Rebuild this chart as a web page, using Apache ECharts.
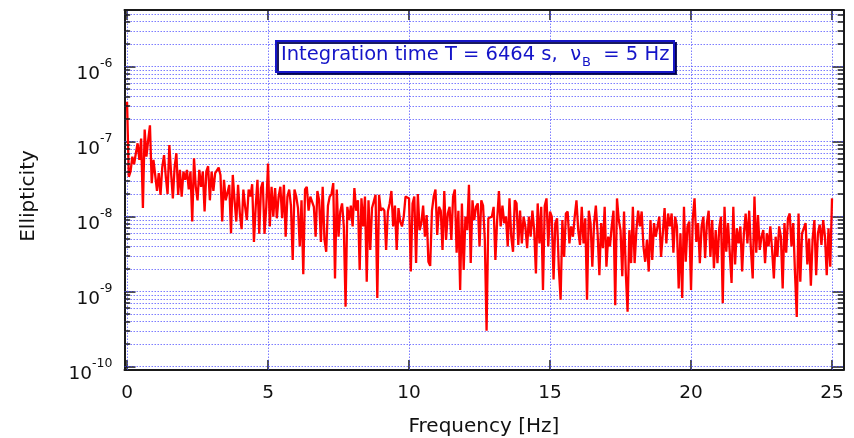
<!DOCTYPE html>
<html>
<head>
<meta charset="utf-8">
<script src="https://cdn.jsdelivr.net/npm/echarts@6/dist/echarts.min.js"></script>
<style>html,body{margin:0;padding:0;background:#fff}#c{width:854px;height:438px}</style>
</head>
<body>
<div id="c"></div>
<script>
// Frequency grid spacing (Hz) of the spectrum samples
const FREQ_STEP = 0.0625;
// Tick labels
const xTickValues = [0, 5, 10, 15, 20, 25];
const yMultipliers = [1, 2, 3, 4, 5, 6, 7, 8, 9];
const yDecadeExps = [-11, -10, -9, -8, -7, -6];

// Ellipticity values, 0 – 6.25 Hz
const segA = [3.4e-7,3.4e-8,4e-8,6.3e-8,5e-8,7e-8,9.5e-8,5.7e-8,1.1e-7,1.3e-8,
1.45e-7,6.3e-8,1.05e-7,1.65e-7,2.8e-8,5.7e-8,5.8e-8,2.2e-8,3.8e-8,1.95e-8,
4.6e-8,6.6e-8,3.4e-8,2e-8,9e-8,3.8e-8,1.75e-8,4.6e-8,7e-8,1.95e-8,
4.2e-8,1.85e-8,4e-8,3.1e-8,4.2e-8,2.3e-8,4e-8,8.6e-9,6e-8,2.5e-8,
1.65e-8,4.2e-8,2.5e-8,4e-8,1.17e-8,4e-8,4.7e-8,1.65e-8,4e-8,2.2e-8,
3.8e-8,4e-8,4.5e-8,3.6e-8,8.6e-9,3.1e-8,1.65e-8,1.6e-8,2.65e-8,6e-9,
3.6e-8,1.65e-8,8.6e-9,2.65e-8,1.1e-8,6.8e-9,2.3e-8,1.35e-8,9e-9,2.3e-8,
1.85e-8,2.7e-8,4.6e-9,1.35e-8,3.1e-8,5.9e-9,2.4e-8,2.9e-8,5.9e-9,1.35e-8,
5.1e-8,7.4e-9,2.5e-8,1e-8,2.4e-8,9.5e-9,1.85e-8,2.5e-8,9.5e-9,2.65e-8,
5.4e-9,1.85e-8,2.3e-8,1.4e-8,2.65e-9,2.3e-8,1.85e-8,1.3e-8,4e-9,1.65e-8,
1.7e-9];
// 6.3125 – 12.6875 Hz
const segB = [2.3e-8,2.5e-8,1.2e-8,1.85e-8,1.95e-8,1.35e-8,5.4e-9,2.2e-8,1.65e-8,4.6e-9,
2.5e-8,5e-9,3.4e-9,1.4e-8,1.85e-8,2e-8,2.8e-8,1.5e-9,2.3e-8,5.4e-9,
1.17e-8,1.5e-8,7.4e-9,6.3e-10,1.35e-8,9e-9,1.4e-8,7.4e-9,2.4e-8,1.2e-8,
1.65e-8,1.95e-9,1.75e-8,7.4e-9,1.85e-8,1.35e-9,1.65e-8,3.6e-9,1.3e-8,1.35e-8,
1.95e-8,8.2e-10,1.95e-8,1.2e-8,1.3e-8,1.2e-8,3.6e-9,1.17e-8,1.5e-8,2.2e-8,
7.4e-9,1.4e-8,3.6e-9,1.3e-8,8.6e-9,7.4e-9,1e-8,1.85e-8,1.95e-8,1.75e-8,
1.85e-9,1.5e-8,1.85e-8,2.4e-9,2e-8,6.6e-9,8.2e-9,1.4e-8,5.4e-9,1.05e-8,
2.5e-9,2.2e-9,1.2e-8,1.85e-8,2.3e-8,5.7e-9,1.35e-8,1.2e-8,3.6e-9,2.2e-8,
4.9e-9,1.1e-8,1.35e-8,4.9e-9,1.85e-8,2.3e-8,3.3e-9,1.2e-8,1.05e-9,1.5e-8,
1.95e-9,1e-8,6.6e-9,2.65e-8,2.4e-9,1.65e-8,9e-9,1.35e-8,1.5e-8,4e-9,
1.65e-8,1.4e-8,4.9e-9];
// 12.75 – 19.0625 Hz
const segC = [3e-10,9.5e-9,9e-9,1e-8,1.35e-8,2.65e-9,9e-9,2.2e-8,7.4e-9,1.4e-8,
8.2e-9,1e-8,4e-9,1.75e-8,5.4e-9,3.4e-9,1.65e-8,1.5e-8,4.2e-9,1.2e-8,
4.4e-9,1e-8,7.4e-9,3.8e-9,1e-8,5.4e-9,1.2e-8,6.6e-9,1.75e-9,1.5e-8,
4.4e-9,1.35e-8,1.05e-9,1.4e-8,1.75e-8,4e-9,1.17e-8,1e-8,1.45e-9,8.2e-9,
9.5e-9,2.05e-9,7.8e-10,9e-9,2.9e-9,1.1e-8,1.17e-8,4.4e-9,7.4e-9,5.4e-9,
1e-8,1.65e-8,6.6e-9,4.2e-9,1.35e-8,4.4e-9,9.5e-9,7.8e-10,1.2e-8,8.2e-9,
2.15e-9,8.2e-9,1.4e-8,6e-9,1.65e-9,8.2e-9,3.8e-9,1.35e-8,2.15e-9,5.4e-9,
4e-9,7.4e-9,1.2e-8,6.6e-10,1.75e-8,9e-9,6.6e-9,1.6e-9,1.17e-8,1.75e-9,
5.4e-10,6.6e-9,2.4e-9,1.35e-8,2.4e-9,6.6e-9,1.2e-8,7.4e-9,1.17e-8,4e-9,
2.5e-9,4.9e-9,1.85e-9,9e-9,2.65e-9,8.2e-9,5.4e-9,7.4e-9,1e-8,2.9e-9,
6e-9,1.3e-8];
// 19.125 – 25 Hz
const segD = [4.4e-9,1.1e-8,7.4e-9,1.1e-8,3.3e-9,1e-8,7.4e-9,1.1e-9,6e-9,8.2e-10,
1.35e-8,2.5e-9,7.4e-9,8.6e-9,1.05e-9,9.5e-9,1.75e-8,4.6e-9,8.2e-9,2.4e-9,
7.4e-9,1e-8,2.8e-9,8.2e-9,1.2e-8,2.9e-9,9e-9,2.05e-9,6.6e-9,2.4e-9,
7e-9,1e-8,7e-10,1.35e-8,3.4e-9,8.2e-9,8.6e-9,1.3e-9,1.35e-8,2.3e-9,
7e-9,4.4e-9,7.4e-9,1.85e-9,6e-9,1.1e-8,4.4e-9,1.2e-8,3.6e-9,1.5e-9,
1.85e-8,3.3e-9,1.05e-8,3.6e-9,5.4e-9,6.6e-9,2.4e-9,6e-9,4e-9,7.4e-9,
3.6e-9,1.5e-9,5.4e-9,2.9e-9,7.4e-9,5.4e-9,1.1e-9,8.2e-9,3.3e-9,9.5e-9,
1.1e-8,4e-9,8.2e-9,1.75e-9,4.6e-10,1.1e-8,1.35e-9,6e-9,6e-9,8.2e-9,
2.3e-9,5.1e-9,1.2e-9,5.1e-9,9e-9,1.65e-9,6e-9,7.8e-9,4.2e-9,9e-9,
5.4e-9,1.65e-9,7e-9,2.15e-9,1.75e-8];

const ellipticity = segA.concat(segB, segC, segD);
const seriesData = ellipticity.map((v, i) => [i * FREQ_STEP, v]);

const X_MIN = -0.09, X_MAX = 25.4;
const Y_MIN = 9.0e-11, Y_MAX = 5.7e-6;
const FONT = '"DejaVu Sans", Verdana, sans-serif';
const GRID_COLOR = 'rgba(70,70,255,0.7)';

// gridline / tick positions
const yGridVals = [];
yDecadeExps.forEach(e => yMultipliers.forEach(m => {
  const v = m * Math.pow(10, e);
  if (v > Y_MIN && v < Y_MAX) yGridVals.push(v);
}));
const gridLines = yGridVals.map(v => [{ coord: [X_MIN, v] }, { coord: [X_MAX, v] }])
  .concat(xTickValues.map(x => [{ coord: [x, Y_MIN] }, { coord: [x, Y_MAX] }]));
const minorVals = yGridVals.filter(v => Math.abs(Math.log10(v) - Math.round(Math.log10(v))) > 1e-6);
const TICK_W = 0.2;
const minorTicks = [];
minorVals.forEach(v => {
  minorTicks.push([{ coord: [X_MIN, v] }, { coord: [X_MIN + TICK_W, v] }]);
  minorTicks.push([{ coord: [X_MAX - TICK_W, v] }, { coord: [X_MAX, v] }]);
});

const axisLineStyle = { show: true, onZero: false, lineStyle: { color: '#1a1a1a', width: 2 } };
const tickStyle = { color: '#1a1a1a', width: 1.5 };

const chart = echarts.init(document.getElementById('c'), null, { renderer: 'canvas' });
chart.setOption({
  animation: false,
  backgroundColor: '#fff',
  title: {
    text: '{t|Integration time T = 6464 s,  \u03bd}{sub|B}{t|  = 5 Hz}',
    left: 276, top: 37,
    backgroundColor: '#fff',
    borderColor: '#1616c8', borderWidth: 2,
    padding: [4, 5, 3, 5],
    shadowColor: 'rgba(0,0,80,0.9)', shadowBlur: 0, shadowOffsetX: 2, shadowOffsetY: 2,
    textStyle: {
      fontWeight: 'normal',
      rich: {
        t: { fontSize: 19.5, fontWeight: 'normal', color: '#1414c8', fontFamily: FONT, lineHeight: 28 },
        sub: { fontSize: 13, fontWeight: 'normal', color: '#1414c8', fontFamily: FONT, lineHeight: 28, verticalAlign: 'bottom', padding: [0, 0, 0, 1] }
      }
    }
  },
  grid: { left: 124.5, right: 10.7, top: 10, bottom: 68, containLabel: false, outerBoundsMode: 'none' },
  xAxis: [{
    type: 'value', min: X_MIN, max: X_MAX, position: 'bottom',
    axisLine: axisLineStyle,
    axisTick: { show: true, inside: true, length: 10, customValues: xTickValues, lineStyle: tickStyle },
    axisLabel: { customValues: xTickValues, fontSize: 18.5, color: '#111', fontFamily: FONT, margin: 14 },
    splitLine: { show: false },
    name: 'Frequency [Hz]', nameLocation: 'middle', nameGap: 47,
    nameTextStyle: { fontSize: 20, color: '#111', fontFamily: FONT, verticalAlign: 'top' }
  }, {
    type: 'value', min: X_MIN, max: X_MAX, position: 'top',
    axisLine: axisLineStyle,
    axisTick: { show: true, inside: true, length: 10, customValues: xTickValues, lineStyle: tickStyle },
    axisLabel: { show: false },
    splitLine: { show: false }
  }],
  yAxis: [{
    type: 'log', logBase: 10, min: Y_MIN, max: Y_MAX, position: 'left',
    axisLine: axisLineStyle,
    axisTick: { show: true, inside: true, length: 11, lineStyle: tickStyle },
    minorTick: { show: false },
    splitLine: { show: false },
    axisLabel: {
      margin: 12, color: '#111', fontFamily: FONT, padding: [8, 0, 0, 0],
      formatter: v => {
        const l = Math.log10(v), e = Math.round(l);
        if (Math.abs(l - e) > 1e-6) return '';
        return '{b|10}{s|' + e + '}';
      },
      rich: {
        b: { fontSize: 18.5, fontFamily: FONT, color: '#111', lineHeight: 26, verticalAlign: 'bottom' },
        s: { fontSize: 12.5, fontFamily: FONT, color: '#111', lineHeight: 26, verticalAlign: 'top' }
      }
    },
    name: 'Ellipticity', nameLocation: 'middle', nameGap: 86, nameRotate: 90,
    nameTextStyle: { fontSize: 20, color: '#111', fontFamily: FONT, padding: [0, 12, 0, 0] }
  }, {
    type: 'log', logBase: 10, min: Y_MIN, max: Y_MAX, position: 'right',
    axisLine: axisLineStyle,
    axisTick: { show: true, inside: true, length: 11, lineStyle: tickStyle },
    minorTick: { show: false },
    splitLine: { show: false },
    axisLabel: { show: false }
  }],
  series: [{
    name: 'grid', type: 'line', data: [], z: 1, silent: true,
    markLine: {
      silent: true, symbol: ['none', 'none'], z: 1, animation: false,
      label: { show: false },
      lineStyle: { type: [1.5, 1.5], color: GRID_COLOR, width: 1 },
      emphasis: { disabled: true },
      data: gridLines
    }
  }, {
    name: 'Ellipticity', type: 'line', data: seriesData, z: 3,
    showSymbol: false, symbol: 'none', smooth: false,
    lineStyle: { color: '#ff0000', width: 2.3 },
    clip: true
  }, {
    name: 'ticks', type: 'line', data: [], z: 5, silent: true,
    markLine: {
      silent: true, symbol: ['none', 'none'], z: 5, animation: false,
      label: { show: false },
      lineStyle: { type: 'solid', color: '#1a1a1a', width: 1.5 },
      emphasis: { disabled: true },
      data: minorTicks
    }
  }]
});
</script>
</body>
</html>
